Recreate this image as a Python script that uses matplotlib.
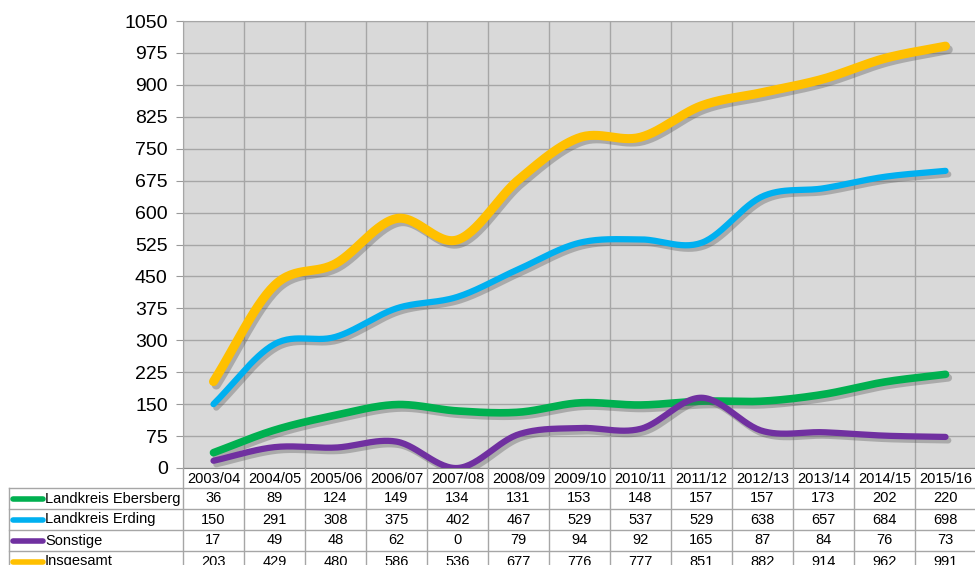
# Schülerzahlen nach Herkunft - Liniendiagramm mit Datentabelle
import numpy as np
import matplotlib.pyplot as plt
import matplotlib.patheffects as pe

plt.rcParams['font.family'] = ['Liberation Sans', 'DejaVu Sans']

# données
jahre = ["2003/04", "2004/05", "2005/06", "2006/07", "2007/08", "2008/09", "2009/10",
         "2010/11", "2011/12", "2012/13", "2013/14", "2014/15", "2015/16"]
ebersberg = [36, 89, 124, 149, 134, 131, 153, 148, 157, 157, 173, 202, 220]
erding = [150, 291, 308, 375, 402, 467, 529, 537, 529, 638, 657, 684, 698]
sonstige = [17, 49, 48, 62, 0, 79, 94, 92, 165, 87, 84, 76, 73]
insgesamt = [203, 429, 480, 586, 536, 677, 776, 777, 851, 882, 914, 962, 991]

namen = ["Landkreis Ebersberg", "Landkreis Erding", "Sonstige", "Insgesamt"]
reihen = [ebersberg, erding, sonstige, insgesamt]
farben = ["#00B050", "#00B0F0", "#7030A0", "#FFC000"]
dicken = [5.5, 4.5, 4.5, 6.5]

yticks = np.arange(0, 1051, 75)


# courbe lissée (Catmull-Rom) passant par les points
def lisser(y, n=30):
    x = np.arange(len(y), dtype=float)
    y = np.asarray(y, dtype=float)
    px = np.concatenate([[2 * x[0] - x[1]], x, [2 * x[-1] - x[-2]]])
    py = np.concatenate([[2 * y[0] - y[1]], y, [2 * y[-1] - y[-2]]])
    xs, ys = [], []
    t = np.linspace(0, 1, n, endpoint=False)
    for i in range(1, len(px) - 2):
        p0, p1, p2, p3 = py[i - 1], py[i], py[i + 1], py[i + 2]
        q0, q1, q2, q3 = px[i - 1], px[i], px[i + 1], px[i + 2]
        for arr, a0, a1, a2, a3 in ((ys, p0, p1, p2, p3), (xs, q0, q1, q2, q3)):
            arr.extend(0.5 * (2 * a1 + (-a0 + a2) * t + (2 * a0 - 5 * a1 + 4 * a2 - a3) * t ** 2
                              + (-a0 + 3 * a1 - 3 * a2 + a3) * t ** 3))
    xs.append(x[-1])
    ys.append(y[-1])
    return np.array(xs), np.array(ys)


fig = plt.figure(figsize=(9.75, 5.65), dpi=100)
ax = fig.add_axes([183 / 975, 1 - 468 / 565, 793 / 975, 447 / 565])
ax.set_facecolor("#D9D9D9")

for y, c, lw in zip(reihen, farben, dicken):
    xs, ys = lisser(y)
    ax.plot(xs, ys, color=c, lw=lw, solid_capstyle="round", zorder=3,
            path_effects=[pe.SimpleLineShadow(offset=(2, -2.5), shadow_color="#555555", alpha=0.35),
                          pe.Normal()])

ax.set_xlim(-0.5, len(jahre) - 0.5)
ax.set_ylim(0, 1050)
ax.set_yticks(yticks)
ax.set_xticks(np.arange(len(jahre) + 1) - 0.5)
ax.tick_params(axis="x", length=0, labelbottom=False)
ax.tick_params(axis="y", labelsize=14, length=5, color="#999999", pad=6)
ax.grid(True, color="#A6A6A6", lw=1)
for s in ax.spines.values():
    s.set_color("#A6A6A6")
ax.spines["bottom"].set_color("#888888")

# tableau des données, en pixels
tab = fig.add_axes([0, 0, 1, 1], zorder=5)
tab.set_xlim(0, 975)
tab.set_ylim(565, 0)
tab.axis("off")

grenzen = [ax.transData.transform((i - 0.5, 0))[0] for i in range(len(jahre) + 1)]
mitten = [ax.transData.transform((i, 0))[0] for i in range(len(jahre))]
lc = "#A6A6A6"
kopf_oben, kopf_unten, zh = 468, 488, 21
unten = kopf_unten + zh * len(namen)

for xb in grenzen:
    tab.plot([xb, xb], [kopf_oben, unten], color=lc, lw=1)
tab.plot([9, 9], [kopf_unten, unten], color=lc, lw=1)
for j in range(len(namen) + 1):
    yy = kopf_unten + j * zh
    tab.plot([9, grenzen[-1]], [yy, yy], color=lc, lw=1)

for xm, j in zip(mitten, jahre):
    tab.text(xm, (kopf_oben + kopf_unten) / 2 + 1, j, ha="center", va="center", fontsize=10.5)

for r, (n, y, c) in enumerate(zip(namen, reihen, farben)):
    ym = kopf_unten + r * zh + zh / 2
    tab.plot([13, 43], [ym, ym], color=c, lw=4, solid_capstyle="round")
    tab.text(45, ym, n, ha="left", va="center", fontsize=10.5)
    for xm, v in zip(mitten, y):
        tab.text(xm, ym, str(v), ha="center", va="center", fontsize=10.5)

plt.savefig("out.png", dpi=100)
